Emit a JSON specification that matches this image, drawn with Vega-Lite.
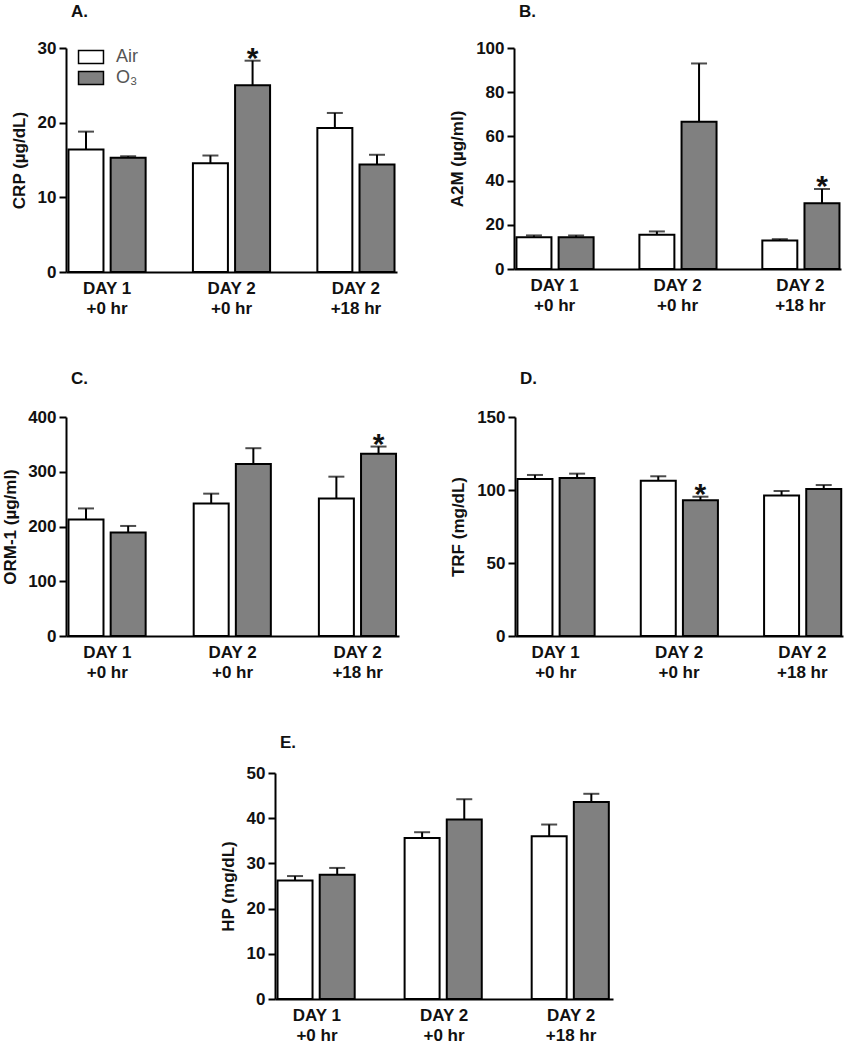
{
  "$schema": "https://vega.github.io/schema/vega-lite/v6.json",
  "padding": {"left": 1, "top": 3, "right": 3, "bottom": 3},
  "background": "white",
  "datasets": {
    "A": [
      {"group": "DAY 1|+0 hr", "treatment": "Air", "mean": 16.4, "upper": 18.8, "sig": false},
      {"group": "DAY 1|+0 hr", "treatment": "O₃", "mean": 15.3, "upper": 15.5, "sig": false},
      {"group": "DAY 2|+0 hr", "treatment": "Air", "mean": 14.55, "upper": 15.6, "sig": false},
      {"group": "DAY 2|+0 hr", "treatment": "O₃", "mean": 25.0, "upper": 28.3, "sig": true},
      {"group": "DAY 2|+18 hr", "treatment": "Air", "mean": 19.3, "upper": 21.3, "sig": false},
      {"group": "DAY 2|+18 hr", "treatment": "O₃", "mean": 14.4, "upper": 15.7, "sig": false}
    ],
    "B": [
      {"group": "DAY 1|+0 hr", "treatment": "Air", "mean": 14.4, "upper": 15.2, "sig": false},
      {"group": "DAY 1|+0 hr", "treatment": "O₃", "mean": 14.4, "upper": 15.2, "sig": false},
      {"group": "DAY 2|+0 hr", "treatment": "Air", "mean": 15.5, "upper": 17.0, "sig": false},
      {"group": "DAY 2|+0 hr", "treatment": "O₃", "mean": 66.6, "upper": 93.0, "sig": false},
      {"group": "DAY 2|+18 hr", "treatment": "Air", "mean": 12.9, "upper": 13.5, "sig": false},
      {"group": "DAY 2|+18 hr", "treatment": "O₃", "mean": 29.8, "upper": 36.2, "sig": true}
    ],
    "C": [
      {"group": "DAY 1|+0 hr", "treatment": "Air", "mean": 213, "upper": 233, "sig": false},
      {"group": "DAY 1|+0 hr", "treatment": "O₃", "mean": 189, "upper": 201, "sig": false},
      {"group": "DAY 2|+0 hr", "treatment": "Air", "mean": 242, "upper": 260, "sig": false},
      {"group": "DAY 2|+0 hr", "treatment": "O₃", "mean": 314, "upper": 343, "sig": false},
      {"group": "DAY 2|+18 hr", "treatment": "Air", "mean": 251, "upper": 291, "sig": false},
      {"group": "DAY 2|+18 hr", "treatment": "O₃", "mean": 333, "upper": 346, "sig": true}
    ],
    "D": [
      {"group": "DAY 1|+0 hr", "treatment": "Air", "mean": 107.5, "upper": 110.3, "sig": false},
      {"group": "DAY 1|+0 hr", "treatment": "O₃", "mean": 108.2, "upper": 111.2, "sig": false},
      {"group": "DAY 2|+0 hr", "treatment": "Air", "mean": 106.4, "upper": 109.4, "sig": false},
      {"group": "DAY 2|+0 hr", "treatment": "O₃", "mean": 92.9, "upper": 95.4, "sig": true},
      {"group": "DAY 2|+18 hr", "treatment": "Air", "mean": 96.3, "upper": 99.3, "sig": false},
      {"group": "DAY 2|+18 hr", "treatment": "O₃", "mean": 100.7, "upper": 103.4, "sig": false}
    ],
    "E": [
      {"group": "DAY 1|+0 hr", "treatment": "Air", "mean": 26.2, "upper": 27.2, "sig": false},
      {"group": "DAY 1|+0 hr", "treatment": "O₃", "mean": 27.5, "upper": 29.0, "sig": false},
      {"group": "DAY 2|+0 hr", "treatment": "Air", "mean": 35.6, "upper": 36.9, "sig": false},
      {"group": "DAY 2|+0 hr", "treatment": "O₃", "mean": 39.7, "upper": 44.2, "sig": false},
      {"group": "DAY 2|+18 hr", "treatment": "Air", "mean": 36.0, "upper": 38.6, "sig": false},
      {"group": "DAY 2|+18 hr", "treatment": "O₃", "mean": 43.6, "upper": 45.4, "sig": false}
    ]
  },
  "vconcat": [
    {
      "hconcat": [
        {
          "title": {"text": "A.", "offset": 18},
          "width": 331, "height": 224,
          "data": {"name": "A"},
          "encoding": {
            "x": {"field": "group", "type": "nominal", "sort": ["DAY 1|+0 hr", "DAY 2|+0 hr", "DAY 2|+18 hr"], "scale": {"paddingInner": 0.38, "paddingOuter": 0.02}, "axis": {"title": null, "labelExpr": "split(datum.label, '|')"}},
            "xOffset": {"field": "treatment", "type": "nominal", "sort": ["Air", "O₃"], "scale": {"paddingInner": 0.17}}
          },
          "layer": [
            {"mark": {"type": "bar", "stroke": "black", "strokeWidth": 2},
             "encoding": {"y": {"field": "mean", "type": "quantitative", "scale": {"domain": [0, 30], "nice": false}, "axis": {"title": "CRP (µg/dL)", "values": [0, 10, 20, 30]}},
               "fill": {"field": "treatment", "type": "nominal", "scale": {"domain": ["Air", "O₃"], "range": ["#ffffff", "#808080"]},
                 "legend": {"orient": "none", "legendX": 16, "legendY": 0, "title": null, "symbolType": "M-1.92,-1H1.92V1H-1.92Z", "symbolSize": 169, "symbolStrokeColor": "black", "symbolStrokeWidth": 1.5, "labelFontSize": 18, "labelFont": "Liberation Sans", "labelColor": "#555", "labelOffset": 16, "rowPadding": 1}}}},
            {"mark": {"type": "rule", "color": "black", "strokeWidth": 2}, "encoding": {"y": {"field": "mean", "type": "quantitative"}, "y2": {"field": "upper"}}},
            {"mark": {"type": "tick", "color": "black", "thickness": 2, "size": 16}, "encoding": {"y": {"field": "upper", "type": "quantitative"}}},
            {"transform": [{"filter": "datum.sig"}], "mark": {"type": "text", "text": "*", "fontSize": 30, "fontWeight": "bold", "baseline": "alphabetic", "dy": 7, "color": "#111"}, "encoding": {"y": {"field": "upper", "type": "quantitative"}}}
          ]
        },
        {
          "title": {"text": "B.", "offset": 18},
          "width": 327, "height": 221,
          "data": {"name": "B"},
          "encoding": {
            "x": {"field": "group", "type": "nominal", "sort": ["DAY 1|+0 hr", "DAY 2|+0 hr", "DAY 2|+18 hr"], "scale": {"paddingInner": 0.38, "paddingOuter": 0.02}, "axis": {"title": null, "labelExpr": "split(datum.label, '|')"}},
            "xOffset": {"field": "treatment", "type": "nominal", "sort": ["Air", "O₃"], "scale": {"paddingInner": 0.17}}
          },
          "layer": [
            {"mark": {"type": "bar", "stroke": "black", "strokeWidth": 2},
             "encoding": {"y": {"field": "mean", "type": "quantitative", "scale": {"domain": [0, 100], "nice": false}, "axis": {"title": "A2M (µg/ml)", "values": [0, 20, 40, 60, 80, 100]}},
               "fill": {"field": "treatment", "type": "nominal", "scale": {"domain": ["Air", "O₃"], "range": ["#ffffff", "#808080"]}, "legend": null}}},
            {"mark": {"type": "rule", "color": "black", "strokeWidth": 2}, "encoding": {"y": {"field": "mean", "type": "quantitative"}, "y2": {"field": "upper"}}},
            {"mark": {"type": "tick", "color": "black", "thickness": 2, "size": 16}, "encoding": {"y": {"field": "upper", "type": "quantitative"}}},
            {"transform": [{"filter": "datum.sig"}], "mark": {"type": "text", "text": "*", "fontSize": 30, "fontWeight": "bold", "baseline": "alphabetic", "dy": 7, "color": "#111"}, "encoding": {"y": {"field": "upper", "type": "quantitative"}}}
          ]
        }
      ],
      "spacing": 51,
      "resolve": {"scale": {"fill": "independent"}}
    },
    {
      "hconcat": [
        {
          "title": {"text": "C.", "offset": 20},
          "width": 333, "height": 219,
          "data": {"name": "C"},
          "encoding": {
            "x": {"field": "group", "type": "nominal", "sort": ["DAY 1|+0 hr", "DAY 2|+0 hr", "DAY 2|+18 hr"], "scale": {"paddingInner": 0.38, "paddingOuter": 0.02}, "axis": {"title": null, "labelExpr": "split(datum.label, '|')"}},
            "xOffset": {"field": "treatment", "type": "nominal", "sort": ["Air", "O₃"], "scale": {"paddingInner": 0.17}}
          },
          "layer": [
            {"mark": {"type": "bar", "stroke": "black", "strokeWidth": 2},
             "encoding": {"y": {"field": "mean", "type": "quantitative", "scale": {"domain": [0, 400], "nice": false}, "axis": {"title": "ORM-1 (µg/ml)", "titlePadding": 8, "values": [0, 100, 200, 300, 400]}},
               "fill": {"field": "treatment", "type": "nominal", "scale": {"domain": ["Air", "O₃"], "range": ["#ffffff", "#808080"]}, "legend": null}}},
            {"mark": {"type": "rule", "color": "black", "strokeWidth": 2}, "encoding": {"y": {"field": "mean", "type": "quantitative"}, "y2": {"field": "upper"}}},
            {"mark": {"type": "tick", "color": "black", "thickness": 2, "size": 16}, "encoding": {"y": {"field": "upper", "type": "quantitative"}}},
            {"transform": [{"filter": "datum.sig"}], "mark": {"type": "text", "text": "*", "fontSize": 30, "fontWeight": "bold", "baseline": "alphabetic", "dy": 7, "color": "#111"}, "encoding": {"y": {"field": "upper", "type": "quantitative"}}}
          ]
        },
        {
          "title": {"text": "D.", "offset": 20},
          "width": 328, "height": 219,
          "data": {"name": "D"},
          "encoding": {
            "x": {"field": "group", "type": "nominal", "sort": ["DAY 1|+0 hr", "DAY 2|+0 hr", "DAY 2|+18 hr"], "scale": {"paddingInner": 0.38, "paddingOuter": 0.02}, "axis": {"title": null, "labelExpr": "split(datum.label, '|')"}},
            "xOffset": {"field": "treatment", "type": "nominal", "sort": ["Air", "O₃"], "scale": {"paddingInner": 0.17}}
          },
          "layer": [
            {"mark": {"type": "bar", "stroke": "black", "strokeWidth": 2},
             "encoding": {"y": {"field": "mean", "type": "quantitative", "scale": {"domain": [0, 150], "nice": false}, "axis": {"title": "TRF (mg/dL)", "values": [0, 50, 100, 150]}},
               "fill": {"field": "treatment", "type": "nominal", "scale": {"domain": ["Air", "O₃"], "range": ["#ffffff", "#808080"]}, "legend": null}}},
            {"mark": {"type": "rule", "color": "black", "strokeWidth": 2}, "encoding": {"y": {"field": "mean", "type": "quantitative"}, "y2": {"field": "upper"}}},
            {"mark": {"type": "tick", "color": "black", "thickness": 2, "size": 16}, "encoding": {"y": {"field": "upper", "type": "quantitative"}}},
            {"transform": [{"filter": "datum.sig"}], "mark": {"type": "text", "text": "*", "fontSize": 30, "fontWeight": "bold", "baseline": "alphabetic", "dy": 7, "color": "#111"}, "encoding": {"y": {"field": "upper", "type": "quantitative"}}}
          ]
        }
      ],
      "spacing": 50,
      "resolve": {"scale": {"fill": "independent"}}
    },
    {
      "hconcat": [
        {
          "width": 141, "height": 10,
          "data": {"values": []},
          "mark": {"type": "point", "opacity": 0}
        },
        {
          "title": {"text": "E.", "offset": 12},
          "width": 338, "height": 226,
          "data": {"name": "E"},
          "encoding": {
            "x": {"field": "group", "type": "nominal", "sort": ["DAY 1|+0 hr", "DAY 2|+0 hr", "DAY 2|+18 hr"], "scale": {"paddingInner": 0.38, "paddingOuter": 0.02}, "axis": {"title": null, "labelExpr": "split(datum.label, '|')"}},
            "xOffset": {"field": "treatment", "type": "nominal", "sort": ["Air", "O₃"], "scale": {"paddingInner": 0.17}}
          },
          "layer": [
            {"mark": {"type": "bar", "stroke": "black", "strokeWidth": 2},
             "encoding": {"y": {"field": "mean", "type": "quantitative", "scale": {"domain": [0, 50], "nice": false}, "axis": {"title": "HP (mg/dL)", "values": [0, 10, 20, 30, 40, 50]}},
               "fill": {"field": "treatment", "type": "nominal", "scale": {"domain": ["Air", "O₃"], "range": ["#ffffff", "#808080"]}, "legend": null}}},
            {"mark": {"type": "rule", "color": "black", "strokeWidth": 2}, "encoding": {"y": {"field": "mean", "type": "quantitative"}, "y2": {"field": "upper"}}},
            {"mark": {"type": "tick", "color": "black", "thickness": 2, "size": 16}, "encoding": {"y": {"field": "upper", "type": "quantitative"}}}
          ]
        }
      ],
      "spacing": 12,
      "resolve": {"scale": {"fill": "independent"}}
    }
  ],
  "spacing": 54,
  "resolve": {"scale": {"fill": "independent"}},
  "config": {
    "view": {"stroke": null},
    "font": "Liberation Sans",
    "title": {"anchor": "start", "frame": "group", "fontSize": 17, "fontWeight": "bold", "color": "#111", "dx": 5},
    "axisY": {"domainColor": "black", "domainWidth": 2, "tickColor": "black", "tickWidth": 2, "tickSize": 7, "labelFontWeight": "bold", "labelFontSize": 17, "labelColor": "#111", "labelPadding": 3, "titleFontSize": 17, "titleFontWeight": "bold", "titleColor": "#111", "titlePadding": 9, "grid": false},
    "axisX": {"domainColor": "black", "domainWidth": 2, "ticks": false, "labelFontWeight": "bold", "labelFontSize": 17, "labelColor": "#111", "labelPadding": 8, "labelLineHeight": 20, "labelAngle": 0, "grid": false}
  }
}
